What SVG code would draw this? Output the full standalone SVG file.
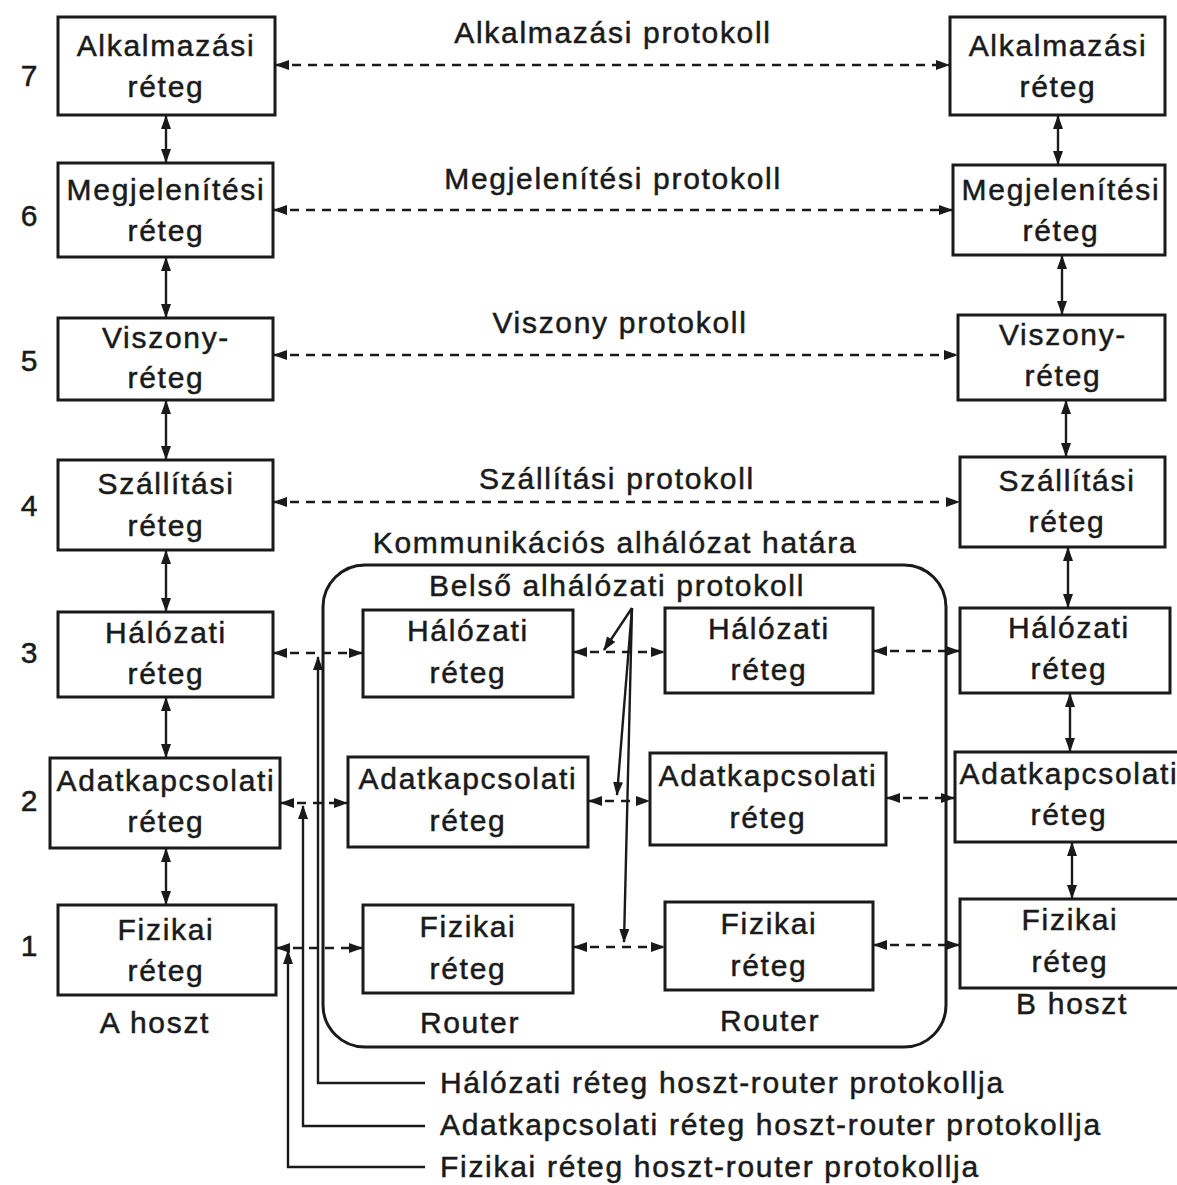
<svg xmlns="http://www.w3.org/2000/svg" width="1177" height="1185" viewBox="0 0 1177 1185">
  <defs>
    <marker id="ah" viewBox="0 0 14 10" refX="13" refY="5" markerWidth="14" markerHeight="10" markerUnits="userSpaceOnUse" orient="auto-start-reverse">
      <path d="M0,0 L14,5 L0,10 Z" fill="#1a1a1a"/>
    </marker>
  </defs>
  <style>
    .box { fill: #fff; stroke: #1a1a1a; stroke-width: 3; }
    .t { font-family: "Liberation Sans", Arial, sans-serif; font-size: 30px; letter-spacing: 1.7px; fill: #1a1a1a; stroke: #1a1a1a; stroke-width: 0.5; text-anchor: middle; }
    .tl { text-anchor: start; }
    .dash { fill: none; stroke: #1a1a1a; stroke-width: 2.4; stroke-dasharray: 9 7; marker-start: url(#ah); marker-end: url(#ah); }
    .solid { fill: none; stroke: #1a1a1a; stroke-width: 2.4; marker-start: url(#ah); marker-end: url(#ah); }
    .one { fill: none; stroke: #1a1a1a; stroke-width: 2.4; marker-end: url(#ah); }
  </style>
  <rect width="1177" height="1185" fill="#fff"/>

  <!-- layer numbers -->
  <g id="layer-numbers" class="t">
    <text x="30" y="86">7</text>
    <text x="30" y="226">6</text>
    <text x="30" y="371">5</text>
    <text x="30" y="516">4</text>
    <text x="30" y="663">3</text>
    <text x="30" y="811">2</text>
    <text x="30" y="956">1</text>
  </g>

  <!-- subnet boundary -->
  <g id="subnet">
    <rect x="323" y="565" width="623" height="482" rx="42" ry="42" fill="none" stroke="#1a1a1a" stroke-width="3"/>
  </g>

  <!-- host A -->
  <g id="a7"><rect class="box" x="58" y="17" width="217" height="98"/><text class="t" x="166" y="56">Alkalmazási</text><text class="t" x="166" y="97">réteg</text></g>
  <g id="a6"><rect class="box" x="58" y="163" width="215" height="94"/><text class="t" x="166" y="200">Megjelenítési</text><text class="t" x="166" y="241">réteg</text></g>
  <g id="a5"><rect class="box" x="58" y="318" width="215" height="82"/><text class="t" x="166" y="348">Viszony-</text><text class="t" x="166" y="388">réteg</text></g>
  <g id="a4"><rect class="box" x="58" y="460" width="215" height="90"/><text class="t" x="166" y="494">Szállítási</text><text class="t" x="166" y="536">réteg</text></g>
  <g id="a3"><rect class="box" x="58" y="612" width="215" height="85"/><text class="t" x="166" y="643">Hálózati</text><text class="t" x="166" y="684">réteg</text></g>
  <g id="a2"><rect class="box" x="50" y="758" width="230" height="90"/><text class="t" x="166" y="791">Adatkapcsolati</text><text class="t" x="166" y="832">réteg</text></g>
  <g id="a1"><rect class="box" x="58" y="905" width="218" height="90"/><text class="t" x="166" y="940">Fizikai</text><text class="t" x="166" y="981">réteg</text></g>
  <text class="t" x="155" y="1033">A hoszt</text>

  <!-- host B -->
  <g id="b7"><rect class="box" x="950" y="17" width="215" height="98"/><text class="t" x="1058" y="56">Alkalmazási</text><text class="t" x="1058" y="97">réteg</text></g>
  <g id="b6"><rect class="box" x="953" y="165" width="212" height="90"/><text class="t" x="1061" y="200">Megjelenítési</text><text class="t" x="1061" y="241">réteg</text></g>
  <g id="b5"><rect class="box" x="958" y="315" width="207" height="85"/><text class="t" x="1063" y="345">Viszony-</text><text class="t" x="1063" y="386">réteg</text></g>
  <g id="b4"><rect class="box" x="960" y="457" width="205" height="90"/><text class="t" x="1067" y="491">Szállítási</text><text class="t" x="1067" y="532">réteg</text></g>
  <g id="b3"><rect class="box" x="960" y="608" width="210" height="85"/><text class="t" x="1069" y="638">Hálózati</text><text class="t" x="1069" y="679">réteg</text></g>
  <g id="b2"><rect class="box" x="955" y="752" width="230" height="90"/><text class="t" x="1069" y="784">Adatkapcsolati</text><text class="t" x="1069" y="825">réteg</text></g>
  <g id="b1"><rect class="box" x="960" y="899" width="225" height="89"/><text class="t" x="1070" y="930">Fizikai</text><text class="t" x="1070" y="972">réteg</text></g>
  <text class="t" x="1072" y="1014">B hoszt</text>

  <!-- routers -->
  <g id="r1-3"><rect class="box" x="363" y="610" width="210" height="87"/><text class="t" x="468" y="641">Hálózati</text><text class="t" x="468" y="683">réteg</text></g>
  <g id="r2-3"><rect class="box" x="665" y="608" width="208" height="85"/><text class="t" x="769" y="639">Hálózati</text><text class="t" x="769" y="680">réteg</text></g>
  <g id="r1-2"><rect class="box" x="348" y="757" width="240" height="90"/><text class="t" x="468" y="789">Adatkapcsolati</text><text class="t" x="468" y="831">réteg</text></g>
  <g id="r2-2"><rect class="box" x="650" y="753" width="236" height="92"/><text class="t" x="768" y="786">Adatkapcsolati</text><text class="t" x="768" y="828">réteg</text></g>
  <g id="r1-1"><rect class="box" x="363" y="905" width="210" height="88"/><text class="t" x="468" y="937">Fizikai</text><text class="t" x="468" y="979">réteg</text></g>
  <g id="r2-1"><rect class="box" x="665" y="902" width="208" height="88"/><text class="t" x="769" y="934">Fizikai</text><text class="t" x="769" y="976">réteg</text></g>
  <text class="t" x="470" y="1033">Router</text>
  <text class="t" x="770" y="1031">Router</text>

  <!-- protocol labels -->
  <g id="labels" class="t">
    <text x="613" y="43">Alkalmazási protokoll</text>
    <text x="613" y="189">Megjelenítési protokoll</text>
    <text x="620" y="333">Viszony protokoll</text>
    <text x="617" y="489">Szállítási protokoll</text>
    <text x="615" y="553">Kommunikációs alhálózat határa</text>
    <text x="617" y="596">Belső alhálózati protokoll</text>
    <text class="t tl" x="440" y="1093">Hálózati réteg hoszt-router protokollja</text>
    <text class="t tl" x="440" y="1135">Adatkapcsolati réteg hoszt-router protokollja</text>
    <text class="t tl" x="440" y="1177">Fizikai réteg hoszt-router protokollja</text>
  </g>

  <!-- connectors -->
  <g id="connectors">
    <!-- peer protocols -->
    <path class="dash" d="M276,65 H949"/>
    <path class="dash" d="M274,210 H952"/>
    <path class="dash" d="M274,355 H957"/>
    <path class="dash" d="M274,502 H959"/>
    <!-- network layer -->
    <path class="dash" d="M274,653 H362"/>
    <path class="dash" d="M574,652 H664"/>
    <path class="dash" d="M874,651 H959"/>
    <!-- data link layer -->
    <path class="dash" d="M281,803 H347"/>
    <path class="dash" d="M589,801 H649"/>
    <path class="dash" d="M887,798 H954"/>
    <!-- physical layer -->
    <path class="dash" d="M277,948 H362"/>
    <path class="dash" d="M574,947 H664"/>
    <path class="dash" d="M874,945 H959"/>
    <!-- host A stack -->
    <path class="solid" d="M166,116 V162"/>
    <path class="solid" d="M166,258 V317"/>
    <path class="solid" d="M166,401 V459"/>
    <path class="solid" d="M166,551 V611"/>
    <path class="solid" d="M166,698 V757"/>
    <path class="solid" d="M166,849 V904"/>
    <!-- host B stack -->
    <path class="solid" d="M1058,116 V164"/>
    <path class="solid" d="M1062,256 V314"/>
    <path class="solid" d="M1066,401 V456"/>
    <path class="solid" d="M1068,548 V607"/>
    <path class="solid" d="M1070,694 V751"/>
    <path class="solid" d="M1072,843 V898"/>
    <!-- inner subnet protocol pointers -->
    <path class="one" d="M632,608 L604,650"/>
    <path class="one" d="M632,608 L617,795"/>
    <path class="one" d="M632,608 L624,942"/>
    <!-- host-router protocol callouts -->
    <path class="one" d="M425,1083 H318 V657"/>
    <path class="one" d="M425,1126 H303 V806"/>
    <path class="one" d="M425,1167 H288 V951"/>
  </g>
</svg>
